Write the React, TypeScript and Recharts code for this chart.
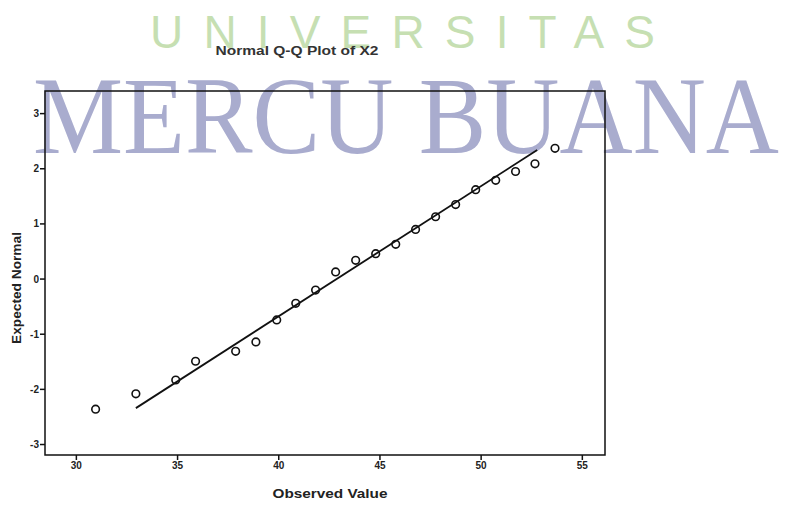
import {
  ScatterChart,
  Scatter,
  XAxis,
  YAxis,
  ReferenceArea,
  ReferenceLine,
} from "recharts";

const observed = [
  30.95, 32.94, 34.91, 35.89, 37.87, 38.87, 39.9, 40.84, 41.82, 42.81, 43.8,
  44.79, 45.78, 46.76, 47.75, 48.74, 49.73, 50.72, 51.7, 52.66, 53.65,
];
const expected = [
  -2.36, -2.08, -1.83, -1.49, -1.31, -1.14, -0.74, -0.44, -0.2, 0.13, 0.34,
  0.46, 0.63, 0.9, 1.13, 1.35, 1.62, 1.79, 1.95, 2.09, 2.37,
];

// reference line end points
const lineX = [32.94, 52.77];
const lineY = [-2.34, 2.34];

const xTicks = [30, 35, 40, 45, 50, 55];
const yTicks = [-3, -2, -1, 0, 1, 2, 3];
const xDomain = [28.45, 56.12];
const yDomain = [-3.19, 3.41];

const points = observed.map((x, i) => ({ x, y: expected[i] }));

const tickStyle = {
  fontSize: 10,
  fill: "#222",
  fontWeight: 700,
  fontFamily: "Liberation Sans",
};

const Ring = (props: any) => (
  <circle
    cx={props.cx}
    cy={props.cy}
    r={3.8}
    fill="none"
    stroke="#111"
    strokeWidth={1.6}
  />
);

export default function App() {
  return (
    <div
      style={{
        position: "absolute",
        left: 0,
        top: 0,
        width: 786,
        height: 506,
        background: "#fff",
        overflow: "hidden",
      }}
    >
      <svg
        width={786}
        height={506}
        style={{ position: "absolute", left: 0, top: 0 }}
      >
        <text
          x={150}
          y={48}
          textLength={505}
          lengthAdjust="spacing"
          fontSize={46}
          fontFamily="Liberation Sans"
          fill="#c6dfb2"
        >
          UNIVERSITAS
        </text>
        <text
          x={33}
          y={153}
          textLength={746}
          lengthAdjust="spacingAndGlyphs"
          fontSize={110}
          fontFamily="Liberation Serif"
          fill="#a9acce"
        >
          MERCU BUANA
        </text>
        <text
          x={297}
          y={55}
          textAnchor="middle"
          textLength={163}
          lengthAdjust="spacingAndGlyphs"
          fontSize={13}
          fontWeight={700}
          fontFamily="Liberation Sans"
          fill="#333"
        >
          Normal Q-Q Plot of X2
        </text>
        <text
          x={330}
          y={498}
          textAnchor="middle"
          textLength={115}
          lengthAdjust="spacingAndGlyphs"
          fontSize={12}
          fontWeight={700}
          fontFamily="Liberation Sans"
          fill="#222"
        >
          Observed Value
        </text>
        <text
          x={21}
          y={288}
          transform="rotate(-90 21 288)"
          textAnchor="middle"
          textLength={112}
          lengthAdjust="spacingAndGlyphs"
          fontSize={12}
          fontWeight={700}
          fontFamily="Liberation Sans"
          fill="#222"
        >
          Expected Normal
        </text>
      </svg>
      <div style={{ position: "absolute", left: 0, top: 0 }}>
        <ScatterChart
          width={786}
          height={506}
          margin={{ top: 91, right: 181, bottom: 26, left: 10 }}
        >
          <XAxis
            type="number"
            dataKey="x"
            domain={xDomain}
            ticks={xTicks}
            allowDataOverflow
            axisLine={false}
            tickLine={{ stroke: "#111", strokeWidth: 1.5 }}
            tickSize={5}
            tickMargin={2}
            height={25}
            tick={tickStyle}
          />
          <YAxis
            type="number"
            dataKey="y"
            domain={yDomain}
            ticks={yTicks}
            allowDataOverflow
            axisLine={false}
            tickLine={{ stroke: "#111", strokeWidth: 1.5 }}
            tickSize={5}
            tickMargin={1}
            width={35}
            tick={tickStyle}
          />
          <ReferenceArea
            x1={xDomain[0]}
            x2={xDomain[1]}
            y1={yDomain[0]}
            y2={yDomain[1]}
            fill="none"
            stroke="#111"
            strokeWidth={1.5}
          />
          <ReferenceLine
            segment={[
              { x: lineX[0], y: lineY[0] },
              { x: lineX[1], y: lineY[1] },
            ]}
            stroke="#111"
            strokeWidth={1.8}
          />
          <Scatter data={points} shape={Ring} isAnimationActive={false} />
        </ScatterChart>
      </div>
    </div>
  );
}
